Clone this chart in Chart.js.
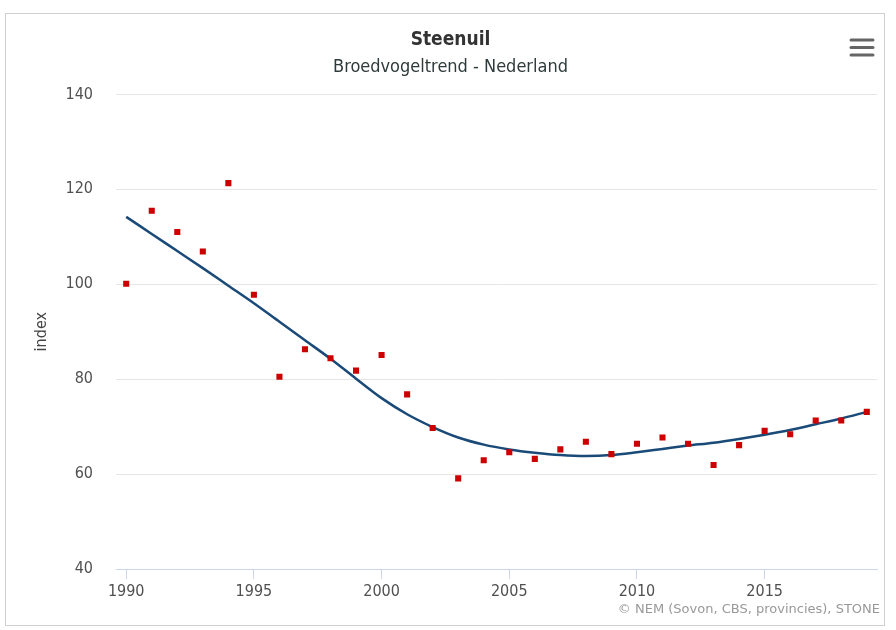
<!DOCTYPE html>
<html>
<head>
<meta charset="utf-8">
<script src="https://cdn.jsdelivr.net/npm/chart.js@4"></script>
<style>
  html, body { margin: 0; padding: 0; background: #fff; }
  #frame { position: absolute; left: 5px; top: 13px; width: 878px; height: 611px; border: 1px solid #d0d0d0; }
  #wrap { position: absolute; left: 0; top: 0; width: 896px; height: 630px; }
</style>
</head>
<body>
<div id="frame"></div>
<div id="wrap"><canvas id="myChart" width="896" height="630"></canvas></div>
<script>
// jaren en waarden
var jaren = [1990, 1991, 1992, 1993, 1994, 1995, 1996, 1997, 1998, 1999,
             2000, 2001, 2002, 2003, 2004, 2005, 2006, 2007, 2008, 2009,
             2010, 2011, 2012, 2013, 2014, 2015, 2016, 2017, 2018, 2019];
var indexWaarden = [100.1, 115.5, 111.0, 106.9, 121.3, 97.8, 80.5, 86.3, 84.4, 81.8,
                    85.1, 76.8, 69.7, 59.1, 62.9, 64.6, 63.2, 65.2, 66.8, 64.2,
                    66.4, 67.7, 66.4, 61.9, 66.1, 69.1, 68.4, 71.3, 71.3, 73.1];
var trendWaarden = [114.2, 110.6, 107.0, 103.4, 99.7, 96.0, 92.1, 88.2, 84.3, 80.1,
                    76.0, 72.6, 69.9, 67.7, 66.2, 65.2, 64.5, 64.0, 63.8, 64.0,
                    64.6, 65.3, 66.0, 66.6, 67.4, 68.3, 69.3, 70.5, 71.7, 73.1];
var xTicks = [1990, 1995, 2000, 2005, 2010, 2015];
var yTicks = [40, 60, 80, 100, 120, 140];

var fontFam = "'Liberation Sans Narrow', 'DejaVu Sans Condensed', Roboto, sans-serif";

// extra tekst: bronvermelding en menu-icoon
var extras = {
    id: 'extras',
    afterDraw: function(chart) {
        var ctx = chart.ctx;
        ctx.save();
        ctx.fillStyle = '#999999';
        ctx.font = "13px 'DejaVu Sans', sans-serif";
        ctx.textAlign = 'right';
        ctx.textBaseline = 'middle';
        ctx.fillText('\u00A9 NEM (Sovon, CBS, provincies), STONE', 880, 610);
        // menu
        ctx.strokeStyle = '#666666';
        ctx.lineWidth = 3;
        ctx.lineCap = 'round';
        [40, 47.5, 55].forEach(function(y) {
            ctx.beginPath();
            ctx.moveTo(851, y);
            ctx.lineTo(873, y);
            ctx.stroke();
        });
        ctx.restore();
    }
};

var ctx = document.getElementById('myChart').getContext('2d');
var myChart = new Chart(ctx, {
    data: {
        datasets: [{
            type: 'scatter',
            label: 'index',
            data: jaren.map(function(j, i) { return {x: j, y: indexWaarden[i]}; }),
            backgroundColor: '#cc0000',
            borderWidth: 0,
            pointStyle: 'rect',
            pointRadius: 4.3,
            order: 0
        }, {
            type: 'line',
            label: 'trend',
            data: jaren.map(function(j, i) { return {x: j, y: trendWaarden[i]}; }),
            borderColor: '#1a4a78',
            borderWidth: 2.5,
            pointRadius: 0,
            fill: false,
            cubicInterpolationMode: 'monotone',
            order: 1
        }]
    },
    options: {
        responsive: false,
        animation: false,
        layout: { padding: { top: 19, right: 19, bottom: 0, left: 24 } },
        plugins: {
            legend: { display: false },
            tooltip: { enabled: false },
            title: {
                display: true,
                text: 'Steenuil',
                color: '#333333',
                font: { family: fontFam, size: 19, weight: 'bold' },
                padding: { top: 10, bottom: 0 }
            },
            subtitle: {
                display: true,
                text: 'Broedvogeltrend - Nederland',
                color: '#2f3a3a',
                font: { family: fontFam, size: 18 },
                padding: { top: 5, bottom: 16 }
            }
        },
        scales: {
            x: {
                type: 'linear',
                min: 1989.6,
                max: 2019.4,
                afterBuildTicks: function(scale) {
                    scale.ticks = xTicks.map(function(v) { return {value: v}; });
                },
                afterFit: function(scale) { scale.height = 61; },
                grid: { drawOnChartArea: false, drawTicks: true, tickLength: 10, color: '#ccd6eb' },
                border: { display: true, color: '#ccd6eb', width: 1 },
                ticks: {
                    color: '#505050',
                    padding: 3,
                    maxRotation: 0,
                    font: { family: fontFam, size: 16 },
                    callback: function(v) { return String(v); }
                }
            },
            y: {
                min: 40,
                max: 140,
                afterBuildTicks: function(scale) {
                    scale.ticks = yTicks.map(function(v) { return {value: v}; });
                },
                afterFit: function(scale) { scale.width = 92; },
                grid: { color: '#e6e6e6', drawTicks: false },
                border: { display: false },
                ticks: {
                    color: '#505050',
                    padding: 23,
                    font: { family: fontFam, size: 16 }
                },
                title: {
                    display: true,
                    text: 'index',
                    color: '#444444',
                    padding: { top: 8, bottom: 0 },
                    font: { family: fontFam, size: 16 }
                }
            }
        }
    },
    plugins: [extras]
});
</script>
</body>
</html>
